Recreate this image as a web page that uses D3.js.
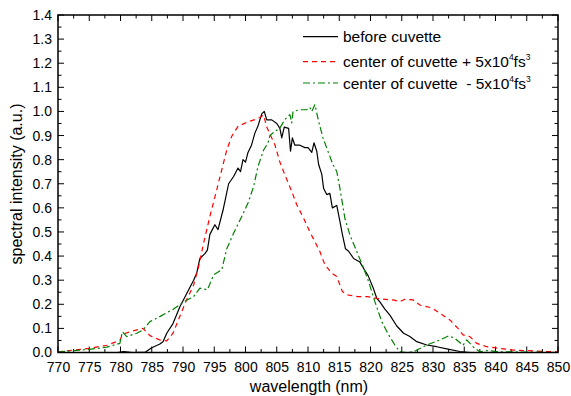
<!DOCTYPE html>
<html><head><meta charset="utf-8">
<script src="https://cdn.jsdelivr.net/npm/d3@7"></script>
<style>
html,body{margin:0;padding:0;background:#fff;}
svg{display:block;font-family:"Liberation Sans",Arial,sans-serif;}
</style></head>
<body>
<svg id="chart" width="571" height="396"></svg>
<script>
// ---- data ----
const xTicks = [770,775,780,785,790,795,800,805,810,815,820,825,830,835,840,845,850];
const yTicks = [0.0,0.1,0.2,0.3,0.4,0.5,0.6,0.7,0.8,0.9,1.0,1.1,1.2,1.3,1.4];
const seriesNames = ["before cuvette","center of cuvette + 5x10","center of cuvette  - 5x10"];

const beforeCuvette = [
[770,0],[779.5,0],[780.5,0.004],[782,0],[784,0.002],[785,0.02],[786.3,0.035],[786.8,0.045],
[787.4,0.08],[788.4,0.12],[789.5,0.19],[790.6,0.245],[791.7,0.30],[792.2,0.33],[792.7,0.39],
[793.5,0.41],[793.9,0.425],[794.3,0.49],[795.1,0.53],[795.6,0.51],[796.4,0.59],[797.3,0.70],
[798.1,0.73],[798.8,0.765],[799.2,0.75],[799.6,0.80],[800.0,0.79],[800.4,0.83],[800.96,0.86],
[801.5,0.91],[802.0,0.94],[802.6,0.99],[803.0,1.0],[803.4,0.965],[804.2,0.965],[805.0,0.95],
[805.5,0.93],[805.8,0.89],[806.2,0.935],[806.9,0.93],[807.2,0.835],[807.5,0.89],[807.9,0.86],
[808.7,0.86],[809.5,0.85],[810.0,0.85],[810.6,0.83],[810.96,0.87],[811.4,0.835],[811.7,0.78],
[812.2,0.74],[812.5,0.68],[813.0,0.655],[813.5,0.66],[813.9,0.60],[814.6,0.61],[815.1,0.545],
[815.5,0.49],[816.0,0.43],[816.5,0.42],[817.3,0.39],[818.3,0.375],[819.1,0.34],[819.6,0.32],
[820.4,0.27],[821.0,0.225],[821.5,0.21],[822.3,0.18],[823.1,0.155],[824.2,0.11],[825.3,0.08],
[826.3,0.066],[827.4,0.045],[829.0,0.031],[830.6,0.024],[832.2,0.015],[834.3,0.004],[836,0],[850,0]
];

const centerPlus = [
[770,0.003],[775,0.017],[777.8,0.03],[779.9,0.05],[780.3,0.075],[781.5,0.086],[783.6,0.10],
[784.7,0.07],[786.3,0.052],[787.4,0.048],[788.4,0.08],[789.5,0.15],[790.6,0.22],[791.7,0.28],
[792.5,0.356],[793.3,0.454],[794.3,0.564],[795.4,0.675],[796.2,0.758],[797.0,0.84],[797.8,0.897],
[798.8,0.938],[800.2,0.955],[801.5,0.966],[802.3,0.975],[802.9,0.985],[803.4,0.935],[804.7,0.862],
[805.5,0.79],[806.3,0.737],[807.4,0.668],[808.2,0.613],[809.3,0.557],[810.3,0.50],[811.1,0.46],
[811.9,0.419],[812.7,0.364],[813.8,0.329],[814.6,0.315],[815.5,0.253],[816.3,0.239],[817.9,0.232],
[819.5,0.232],[821.5,0.222],[823.6,0.218],[824.7,0.211],[825.5,0.221],[826.8,0.218],[827.9,0.197],
[829.8,0.185],[831.1,0.163],[832.7,0.135],[834.0,0.10],[834.8,0.073],[835.9,0.066],[837.0,0.038],
[838.6,0.024],[840.7,0.017],[842.8,0.01],[845.0,0.008],[848.2,0.004],[850,0.003]
];

const centerMinus = [
[770,0.002],[775,0.013],[777.8,0.022],[779.9,0.038],[780.3,0.086],[781.0,0.066],[782.6,0.08],
[783.6,0.093],[784.7,0.128],[785.8,0.142],[787.4,0.165],[788.5,0.18],[790.1,0.21],[791.7,0.232],
[792.7,0.267],[793.9,0.26],[794.9,0.322],[796.2,0.343],[797.0,0.43],[798.1,0.495],[799.4,0.564],
[800.4,0.62],[801.3,0.689],[802.0,0.772],[802.9,0.84],[803.6,0.869],[803.9,0.9],[804.7,0.917],
[805.5,0.931],[806.3,0.966],[807.1,0.987],[807.4,0.952],[807.6,1.0],[808.7,1.007],[809.8,1.007],
[810.3,1.017],[810.6,1.0],[811.1,1.028],[811.7,0.959],[812.4,0.89],[813.2,0.834],[814.0,0.779],
[814.6,0.751],[815.1,0.682],[815.9,0.557],[816.7,0.488],[817.8,0.419],[818.9,0.35],[819.7,0.294],
[820.7,0.211],[821.8,0.128],[822.9,0.073],[823.9,0.031],[824.7,0.003],[825.8,0],[826.9,0.003],
[829.0,0.031],[831.1,0.052],[832.5,0.069],[833.5,0.059],[834.8,0.03],[835.4,0.052],[836.4,0.024],
[837.5,0.003],[838.6,0.008],[840.7,0.003],[850,0]
];

// ---- layout ----
const L = 58, R = 558, T = 15, B = 352.5;
const svg = d3.select("#chart");
const x = d3.scaleLinear().domain([770,850]).range([L,R]);
const y = d3.scaleLinear().domain([0,1.4]).range([B,T]);

svg.append("defs").append("clipPath").attr("id","clip")
  .append("rect").attr("x",L).attr("y",T-2).attr("width",R-L).attr("height",B-T+2);

const minorX = d3.range(770,850.01,2.5);
const minorY = d3.range(0,1.4001,0.05);

// axes
const fs = 14, fsT = 16, fsL = 15.5;
const bottom = svg.append("g").attr("transform",`translate(0,${B})`)
  .call(d3.axisBottom(x).tickValues(xTicks).tickSize(0).tickPadding(6).tickFormat(d3.format("d")));
const left = svg.append("g").attr("transform",`translate(${L},0)`)
  .call(d3.axisLeft(y).tickValues(yTicks).tickSize(0).tickPadding(6).tickFormat(d3.format(".1f")));
[bottom,left].forEach(g=>{
  g.select(".domain").remove();
  g.selectAll("text").attr("font-size",fs).attr("fill","#000").attr("font-family","Liberation Sans, Arial, sans-serif");
});
bottom.selectAll("text").attr("dy","0.95em");

// tick marks (inward)
const tk = svg.append("g").attr("stroke","#000").attr("stroke-width",1);
minorX.forEach((v,i)=>{
  const len = (i%2===0)?6:3.5;
  tk.append("line").attr("x1",x(v)).attr("x2",x(v)).attr("y1",B).attr("y2",B-len);
  tk.append("line").attr("x1",x(v)).attr("x2",x(v)).attr("y1",T).attr("y2",T+len);
});
minorY.forEach((v,i)=>{
  const len = (i%2===0)?6:3.5;
  tk.append("line").attr("y1",y(v)).attr("y2",y(v)).attr("x1",L).attr("x2",L+len);
  tk.append("line").attr("y1",y(v)).attr("y2",y(v)).attr("x1",R).attr("x2",R-len);
});

// series
const line = d3.line().x(d=>x(d[0])).y(d=>y(d[1]));
const plot = svg.append("g").attr("clip-path","url(#clip)");
const styles = [
  {data:beforeCuvette, color:"#000000", dash:null},
  {data:centerPlus, color:"#ff0000", dash:"5,4"},
  {data:centerMinus, color:"#008000", dash:"7,3,2,3"}
];
styles.forEach(s=>{
  plot.append("path").datum(s.data).attr("d",line).attr("fill","none")
    .attr("stroke",s.color).attr("stroke-width",1.2).attr("stroke-linejoin","round")
    .attr("stroke-dasharray",s.dash);
});

// frame
svg.append("rect").attr("x",L).attr("y",T).attr("width",R-L).attr("height",B-T)
  .attr("fill","none").attr("stroke","#000").attr("stroke-width",1.5);

// axis titles
svg.append("text").attr("x",(L+R)/2+1).attr("y",392).attr("text-anchor","middle")
  .attr("font-size",fsT).text("wavelength (nm)");
svg.append("text").attr("transform","translate(22,184) rotate(-90)").attr("text-anchor","middle")
  .attr("font-size",fsT).text("spectral intensity (a.u.)");

// legend
const legY = [36.7, 61.7, 83];
const leg = svg.append("g");
styles.forEach((s,i)=>{
  leg.append("line").attr("x1",303).attr("x2",338).attr("y1",legY[i]).attr("y2",legY[i])
    .attr("stroke",s.color).attr("stroke-width",1.2).attr("stroke-dasharray",s.dash);
  const t = leg.append("text").attr("x",343).attr("y",legY[i]+5.5).attr("font-size",fsL)
    .style("white-space","pre");
  t.append("tspan").text(seriesNames[i]);
  if(i>0){
    t.append("tspan").attr("font-size",8.5).attr("dy",-7).text("4");
    t.append("tspan").attr("dy",7).text("fs");
    t.append("tspan").attr("font-size",8.5).attr("dy",-7).text("3");
  }
});
</script>
</body></html>
